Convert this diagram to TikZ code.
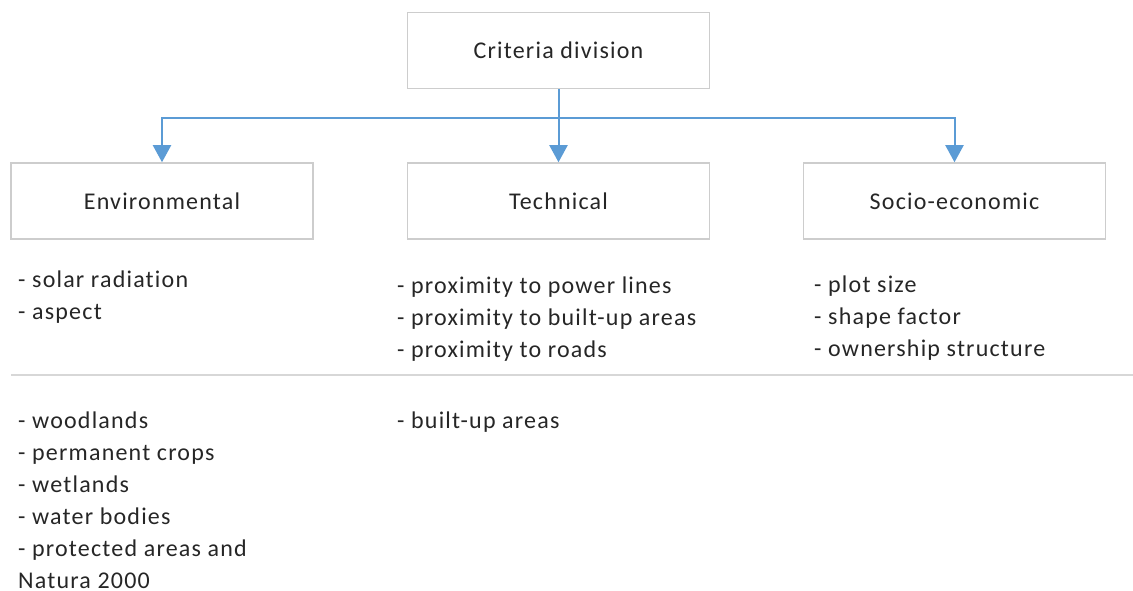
\documentclass[tikz,border=0pt]{standalone}
\usepackage{fontspec}
\setmainfont{Carlito}[LetterSpace=5,Ligatures=NoCommon]
\usepackage{xcolor}
\usepackage{tikz}
\usetikzlibrary{arrows.meta}
\definecolor{linkblue}{RGB}{91,155,213}
\definecolor{boxgray}{RGB}{205,205,205}
\definecolor{rulegray}{RGB}{215,215,215}
\tikzset{catbox/.style={draw=boxgray, line width=1.5pt, fill=white, minimum width=302pt, minimum height=76pt, text=black!85, font={\fontsize{24}{32}\selectfont}},
critlist/.style={anchor=base west, align=left, inner sep=0pt, text=black!85, font={\fontsize{24}{32}\selectfont}},
link/.style={draw=linkblue, line width=2pt, -{Triangle[width=18pt,length=17pt]}}}

\begin{document}
\begin{tikzpicture}[x=1pt,y=-1pt]
   \useasboundingbox (0,0) rectangle (1133,591);
   \node[catbox] (crit) at (558.5,50.5) {Criteria division};
   \node[catbox] (env) at (162,201) {Environmental};
   \node[catbox] (tech) at (558.5,201) {Technical};
   \node[catbox] (socio) at (954.5,201) {Socio-economic};
   \coordinate (bus) at ([yshift=-29pt]crit.south);
   \draw[link] (crit.south) -- (tech.north);
   \draw[link] (bus) -| (env.north);
   \draw[link] (bus) -| (socio.north);
   % suitability factors (placed by the baseline of the last line)
   \node[critlist] (envfac) at (18,319) {- solar radiation\\- aspect};
   \node[critlist] (techfac) at (397,357) {- proximity to power lines\\- proximity to built-up areas\\- proximity to roads};
   \node[critlist] (sociofac) at (814,356) {- plot size\\- shape factor\\- ownership structure};
   % divider
   \coordinate (ruleL) at (11,375);
   \coordinate (ruleR) at (1133,375);
   \draw[rulegray, line width=2pt] (ruleL) -- (ruleR);
   % exclusions
   \node[critlist] (envexcl) at (18,588) {- woodlands\\- permanent crops\\- wetlands\\- water bodies\\- protected areas and\\Natura 2000};
   \node[critlist] (techexcl) at (397,428) {- built-up areas};
\end{tikzpicture}
\end{document}
